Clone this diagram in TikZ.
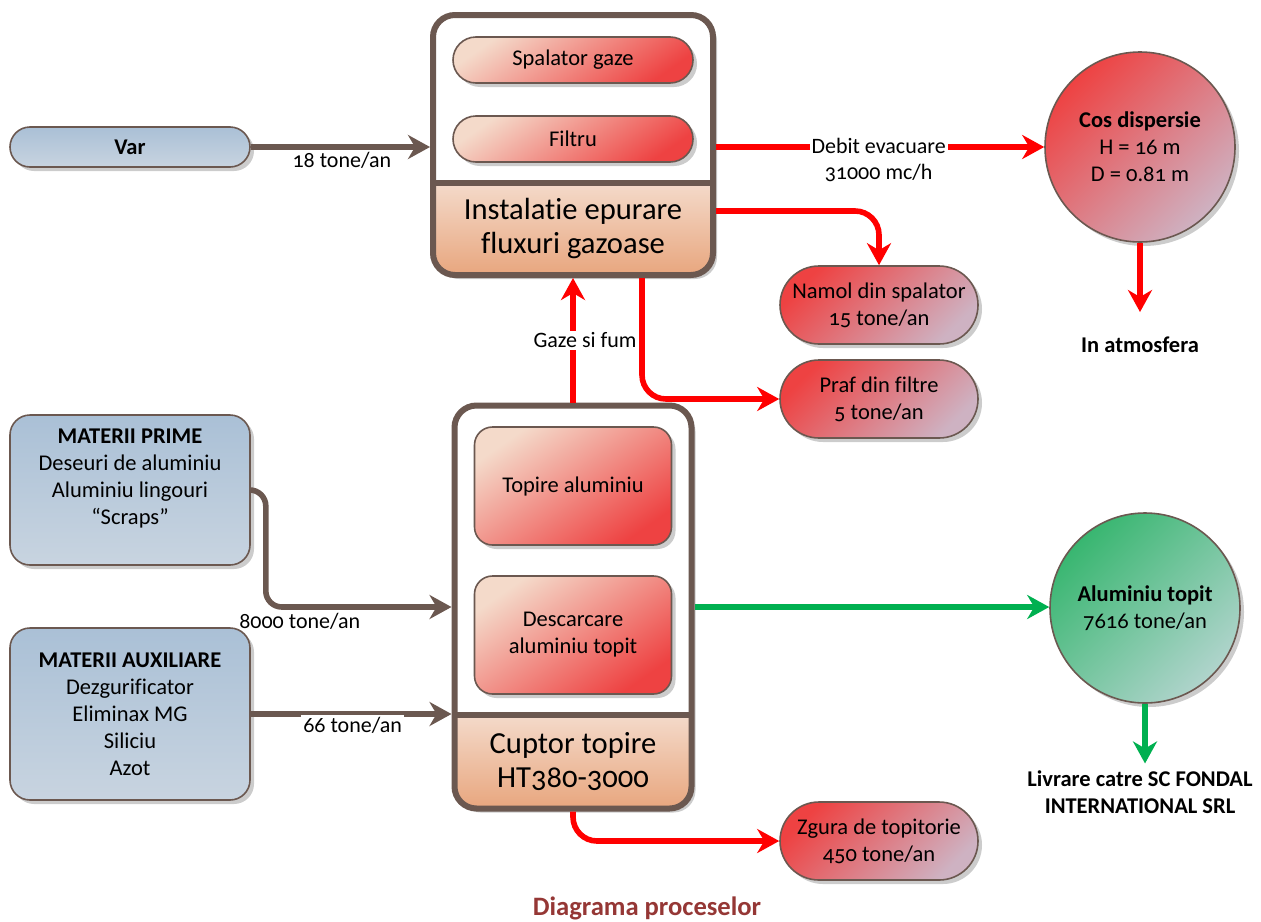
\documentclass[tikz,border=0pt]{standalone}
\usepackage{fontspec}
\setmainfont{Carlito}[Numbers=OldStyle,Ligatures={TeX,NoCommon}]
\usetikzlibrary{arrows.meta,shadows}
\definecolor{Brn}{RGB}{107,88,80}
\definecolor{Rd}{RGB}{255,0,0}
\definecolor{Grn}{RGB}{0,176,80}
\definecolor{BlueA}{RGB}{170,192,214}
\definecolor{BlueB}{RGB}{200,212,224}
\definecolor{PeachA}{RGB}{244,218,202}
\definecolor{PeachM}{RGB}{236,160,150}
\definecolor{PeachB}{RGB}{232,166,126}
\definecolor{RedA}{RGB}{238,66,66}
\definecolor{Lav}{RGB}{206,178,194}
\definecolor{GrnA}{RGB}{56,182,112}
\definecolor{GrnB}{RGB}{176,212,204}
\definecolor{TitluRd}{RGB}{149,55,53}
\begin{document}
\begin{tikzpicture}[x=0.5pt,y=-0.5pt,
	txt/.style={font=\fontsize{11.25}{13.5}\selectfont,align=center},
	lbl/.style={font=\fontsize{11}{13}\selectfont,align=center,fill=white,text=black,inner sep=1pt},
	shd/.style={drop shadow={shadow xshift=2pt,shadow yshift=-2pt,fill=black!20,opacity=1}},
	mat/.style={txt,shd,draw=Brn,line width=.8pt,rounded corners=10pt,top color=BlueA,bottom color=BlueB,minimum width=120pt},
	proc/.style={txt,shd,draw=Brn,line width=.8pt,top color=PeachA,middle color=PeachM,bottom color=RedA,shading angle=35},
	waste/.style={txt,shd,draw=Brn,line width=.8pt,top color=RedA,bottom color=Lav,shading angle=45,minimum width=99pt,minimum height=39pt,rounded corners=19.5pt},
	big/.style={shd,fill=white,outer sep=0pt,rounded corners=11pt},
	bigtxt/.style={font=\fontsize{15.3}{17}\selectfont,align=center},
	flow/.style={line width=2.8pt,-{Stealth[length=11pt,width=12pt,inset=3.5pt]}}]
	\useasboundingbox (0,0) rectangle (1261,921);
	
	\node[big,minimum width=140pt,minimum height=130pt] (Ins) at (573,145) {};
	\begin{scope}
		\clip[rounded corners=11pt] (Ins.south west) rectangle (Ins.north east);
		\shade[top color=PeachA,bottom color=PeachB] ([yshift=46pt]Ins.south west) rectangle (Ins.south east);
	\end{scope}
	\draw[Brn,line width=3pt,rounded corners=11pt] (Ins.south west) rectangle (Ins.north east);
	\draw[Brn,line width=3pt] ([yshift=46pt]Ins.south west) -- ([yshift=46pt]Ins.south east);
	\node[bigtxt] (InsTxt) at (573,229) {Instalatie epurare\\fluxuri gazoase};
	\node[proc,minimum width=120pt,minimum height=23pt,rounded corners=11.5pt] (Spal) at (573,60) {Spalator gaze};
	\node[proc,minimum width=120pt,minimum height=23pt,rounded corners=11.5pt] (Filt) at (573,139) {Filtru};
	
	\node[big,minimum width=118.5pt,minimum height=201.5pt] (Cup) at (573,607) {};
	\begin{scope}
		\clip[rounded corners=11pt] (Cup.south west) rectangle (Cup.north east);
		\shade[top color=PeachA,bottom color=PeachB] ([yshift=46.75pt]Cup.south west) rectangle (Cup.south east);
	\end{scope}
	\draw[Brn,line width=3pt,rounded corners=11pt] (Cup.south west) rectangle (Cup.north east);
	\draw[Brn,line width=3pt] ([yshift=46.75pt]Cup.south west) -- ([yshift=46.75pt]Cup.south east);
	\node[bigtxt] (CupTxt) at (573,762) {Cuptor topire\\HT380-3000};
	\node[proc,minimum width=98.5pt,minimum height=59pt,rounded corners=9pt] (Top) at (573,486) {Topire aluminiu};
	\node[proc,minimum width=98.5pt,minimum height=59pt,rounded corners=9pt] (Desc) at (573,635) {Descarcare\\aluminiu topit};
	
	\node[mat,minimum height=20pt] (Var) at (130,147) {\textbf{Var}};
	\node[mat,minimum height=75pt] (Prime) at (130,490) {\textbf{MATERII PRIME}\\Deseuri de aluminiu\\Aluminiu lingouri\\``Scraps''\\\mbox{}};
	\node[mat,minimum height=86pt] (Aux) at (130,714) {\textbf{MATERII AUXILIARE}\\Dezgurificator\\Eliminax MG\\Siliciu\\Azot};
	
	\node[txt,circle,shd,draw=Brn,line width=.8pt,top color=RedA,bottom color=Lav,shading angle=45,minimum size=95pt,inner sep=0pt] (Cos) at (1140,147) {\textbf{Cos dispersie}\\H = 16 m\\D = 0.81 m};
	\node[txt,circle,shd,draw=Brn,line width=.8pt,top color=GrnA,bottom color=GrnB,shading angle=45,minimum size=95pt,inner sep=0pt] (Alu) at (1145,608) {\textbf{Aluminiu topit}\\7616 tone/an};
	\node[txt] (Atm) at (1140,345) {\textbf{In atmosfera}};
	\node[txt] (Liv) at (1140,792) {\textbf{Livrare catre SC FONDAL}\\\textbf{INTERNATIONAL SRL}};
	
	\node[waste] (Nam) at (879,305) {Namol din spalator\\15 tone/an};
	\node[waste] (Praf) at (879,399) {Praf din filtre\\5 tone/an};
	\node[waste] (Zg) at (879,841) {Zgura de topitorie\\450 tone/an};
	
	\draw[flow,Brn,shorten >=1.5pt] (Var.east) -- (Var.east -| Ins.west) node[lbl,midway,yshift=-6.5pt] {18 tone/an};
	\draw[flow,Rd,shorten <=1.5pt] (Cos.west -| Ins.east) -- (Cos.west) node[lbl,midway,yshift=-6.5pt] {Debit evacuare\\31000 mc/h};
	\draw[flow,Rd,shorten >=9pt] (Cos.south) -- (Cos.south |- Atm.north);
	\draw[flow,Rd,rounded corners=12pt,shorten <=1.5pt] ([yshift=-33pt]Ins.east) -| (Nam.north);
	\draw[flow,Rd,rounded corners=12pt,shorten <=1.5pt] ([xshift=34.5pt]Ins.south) |- (Praf.west);
	\draw[flow,Rd,shorten <=1.5pt,shorten >=1.5pt] (Cup.north) -- (Ins.south) node[lbl,midway,xshift=6pt] {Gaze si fum};
	\draw[flow,Brn,rounded corners=8pt,shorten >=1.5pt] (Prime.east) -- ++(15,0) |- (Cup.west) node[lbl,pos=.59,yshift=-7pt] {8000 tone/an};
	\draw[flow,Brn,shorten >=1.5pt] (Aux.east) -- (Aux.east -| Cup.west) node[lbl,midway,yshift=-5.5pt] {66 tone/an};
	\draw[flow,Grn,shorten <=1.5pt] (Cup.east) -- (Cup.east -| Alu.west);
	\draw[flow,Grn] (Alu.south) -- (Alu.south |- Liv.north);
	\draw[flow,Rd,rounded corners=12pt,shorten <=1.5pt] (Cup.south) |- (Zg.west);
	
	\node[font=\fontsize{13.3}{16}\selectfont\bfseries,text=TitluRd] (Titlu) at (647,908) {Diagrama proceselor};
\end{tikzpicture}
\end{document}
